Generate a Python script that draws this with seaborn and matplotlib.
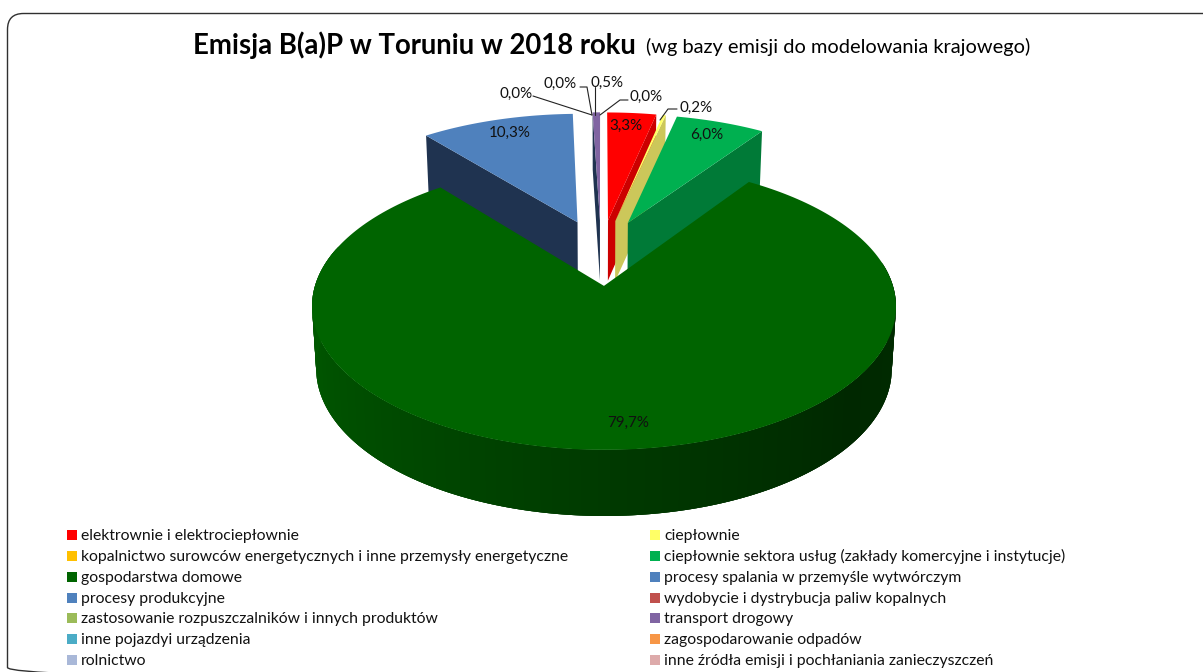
import numpy as np
import matplotlib
matplotlib.use("Agg")
import matplotlib.pyplot as plt
from matplotlib.patches import FancyBboxPatch, Rectangle
import seaborn as sns

# Emission shares per source category, in legend order
sources = [
    "elektrownie i elektrociepłownie",
    "ciepłownie",
    "kopalnictwo surowców energetycznych i inne przemysły energetyczne",
    "ciepłownie sektora usług (zakłady komercyjne i instytucje)",
    "gospodarstwa domowe",
    "procesy spalania w przemyśle wytwórczym",
    "procesy produkcyjne",
    "wydobycie i dystrybucja paliw kopalnych",
    "zastosowanie rozpuszczalników i innych produktów",
    "transport drogowy",
    "inne pojazdyi urządzenia",
    "zagospodarowanie odpadów",
    "rolnictwo",
    "inne źródła emisji i pochłaniania zanieczyszczeń",
]
shares = [3.3, 0.2, 0.0, 6.0, 79.7, 10.3, 0.0, 0.0, 0.0, 0.5, 0.0, 0.0, 0.0, 0.0]
top_colors = ["#FF0000", "#FFFF66", "#FFC000", "#00B050", "#006400", "#4F81BD",
              "#4F81BD", "#C0504D", "#9BBB59", "#8064A2", "#4BACC6", "#F79646",
              "#A9B8D8", "#DDAAAA"]
wall_colors = ["#CC0000", "#CCC75A", "#C09000", "#007A37", "#003800", "#1F3350",
               "#1F3350", "#803330", "#6B8040", "#1F3350", "#307080", "#B06020",
               "#7080A0", "#A07070"]

sns.set_theme(style="white", font="Lato")
sns.set_palette(top_colors)

fig = plt.figure(figsize=(12.03, 6.72), dpi=100, facecolor="white")
ax = fig.add_axes([0, 0, 1, 1])
ax.set_xlim(0, 1203)
ax.set_ylim(672, 0)
ax.axis("off")

# Perspective of the tilted disc: unit radius on the ground plane
CX, TOP_Y, BOT_Y = 601.0, 252.0, 313.0
SCALE_X, SCALE_X_BOT = 279.0, 275.0
SCALE_TOP, SCALE_BOT = 131.0, 134.4
PERSP = 0.138
EXPLODE = 0.25


def project(x, y, bottom=False):
    w = 1 + PERSP * y
    if bottom:
        return CX + SCALE_X_BOT * x / w, BOT_Y - SCALE_BOT * y / w
    return CX + SCALE_X * x / w, TOP_Y - SCALE_TOP * y / w


def rim(start, stop, dx, dy, bottom=False, n=240):
    t = np.radians(np.linspace(start, stop, n))
    return project(np.sin(t) + dx, np.cos(t) + dy, bottom)


edges = np.cumsum([0.0] + shares) / sum(shares) * 360.0
order = [9, 5, 0, 1, 3]   # wedges lying behind the large one, drawn back to front
big = int(np.argmax(shares))

for i in order:
    a, b = edges[i], edges[i + 1]
    mid = np.radians((a + b) / 2)
    dx, dy = EXPLODE * np.sin(mid), EXPLODE * np.cos(mid)
    # the cut face turned towards the viewer
    side = np.radians(b if np.sin(mid) > 0 else a)
    ox, oy = np.sin(side) + dx, np.cos(side) + dy
    xt0, yt0 = project(dx, dy)
    xt1, yt1 = project(ox, oy)
    xb0, yb0 = project(dx, dy, True)
    xb1, yb1 = project(ox, oy, True)
    ax.fill([xt0, xt1, xb1, xb0], [yt0, yt1, yb1, yb0], color=wall_colors[i], lw=0)
    rx, ry = rim(a, b, dx, dy)
    ax.fill(np.r_[xt0, rx], np.r_[yt0, ry], color=top_colors[i], lw=0)

# Large wedge: shaded rim in overlapping strips, then its top face
a, b = edges[big], edges[big + 1]
mid = np.radians((a + b) / 2)
dx, dy = EXPLODE * np.sin(mid), EXPLODE * np.cos(mid)
shade_angle = [80, 130, 180, 230, 285]
shade_green = [45, 40, 58, 78, 95]
steps = np.linspace(80, 285, 206)
for s0, s1 in zip(steps[:-1], steps[1:]):
    tx, ty = rim(s0, s1 + 2, dx, dy, n=4)
    bx, by = rim(s0, s1 + 2, dx, dy, bottom=True, n=4)
    g = np.interp((s0 + s1) / 2, shade_angle, shade_green) / 255
    ax.fill(np.r_[tx, bx[::-1]], np.r_[ty, by[::-1]], color=(0, g, 0), lw=0)
rx, ry = rim(a, b, dx, dy)
ax0, ay0 = project(dx, dy)
ax.fill(np.r_[ax0, rx], np.r_[ay0, ry], color=top_colors[big], lw=0)


def pct(value):
    return f"{value:.1f}%".replace(".", ",")


label_font = 10.9
for idx, px, py in [(0, 626, 125.5), (3, 707, 134.5), (5, 510, 132.5), (4, 628, 422.5)]:
    ax.text(px, py, pct(shares[idx]), ha="center", va="center",
            fontsize=label_font, color="#111111")

# Small slices are labelled outside the disc with leader lines
callouts = [
    (1, 696, 107.5, [(677, 109), (668, 109), (660, 120)]),
    (2, 646, 96.5, [(628, 100), (620, 100), (600, 115)]),
    (9, 607, 82.5, [(595, 87), (595, 115)]),
    (7, 560, 83.5, [(580, 87), (587, 87), (592, 115)]),
    (6, 516, 93.5, [(533, 96), (592, 115)]),
]
for idx, px, py, path in callouts:
    ax.text(px, py, pct(shares[idx]), ha="center", va="center",
            fontsize=label_font, color="#111111")
    ax.plot(*zip(*path), color="#222222", lw=0.8)

ax.text(193, 45, "Emisja B(a)P w Toruniu w 2018 roku", ha="left", va="center",
        fontsize=19.85, fontweight="bold", color="black")
ax.text(646, 47, "(wg bazy emisji do modelowania krajowego)", ha="left", va="center",
        fontsize=14.4, color="black")

# Legend laid out across two columns on shared baselines
for i, (name, colour) in enumerate(zip(sources, top_colors)):
    row, col = divmod(i, 2)
    x0 = 67 + 583 * col
    y0 = 535 + 20.85 * row
    ax.add_patch(Rectangle((x0, y0 - 5), 10, 10, facecolor=colour, edgecolor="none"))
    ax.text(x0 + 14, y0 + 5, name, ha="left", va="baseline", fontsize=11.37, color="#111111")

# Rounded chart frame running past the right and bottom edges
ax.add_patch(FancyBboxPatch((7.5, 13.5), 1260, 670, boxstyle="round,pad=0,rounding_size=16",
                            facecolor="none", edgecolor="#303030", lw=1.0, clip_on=True))

fig.savefig("out.png", dpi=100)
